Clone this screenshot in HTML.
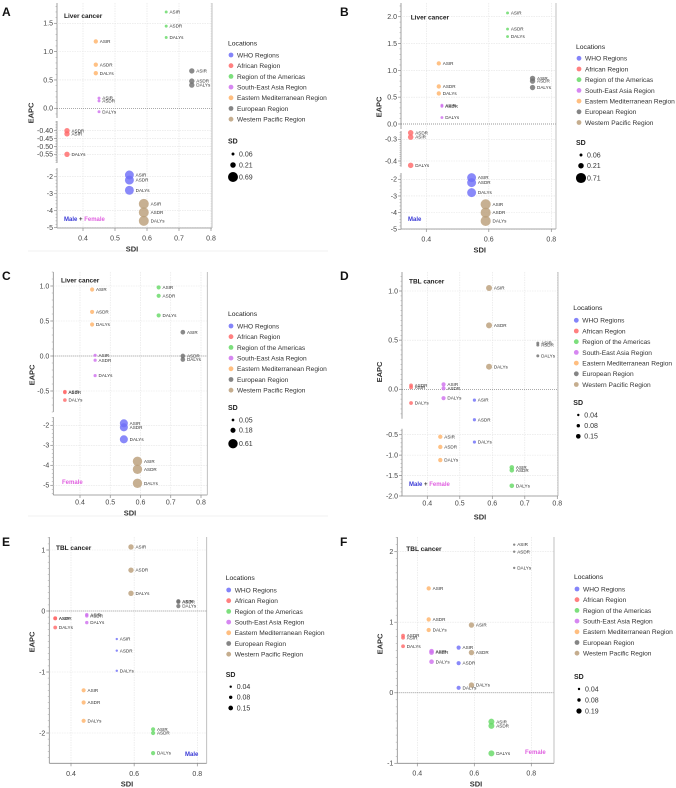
<!DOCTYPE html>
<html><head><meta charset="utf-8">
<style>
html,body{margin:0;padding:0;background:#fff;}
svg{display:block;font-family:"Liberation Sans",sans-serif;}
</style></head>
<body>
<svg id="fig" width="676" height="788" viewBox="0 0 676 788" xmlns="http://www.w3.org/2000/svg">
<rect width="676" height="788" fill="#fff"/>
<line x1="28" y1="251" x2="328" y2="251" stroke="#ececec" stroke-width="0.8"/>
<line x1="28" y1="516" x2="328" y2="516" stroke="#ececec" stroke-width="0.8"/>
</svg>
<script>
// Regions, in fixed order
const regions = ["WHO Regions","African Region","Region of the Americas","South-East Asia Region","Eastern Mediterranean Region","European Region","Western Pacific Region"];
const colors = ["#6f6ff8","#ff6a6a","#66d966","#cf72ee","#ffb36a","#707070","#bb9f7a"];
const sdi = [0.545, 0.35, 0.66, 0.45, 0.44, 0.74, 0.59];
const measures = ["ASIR","ASDR","DALYs"];

// Panel A: Liver cancer, Male + Female
const A_asir  = [-1.9, -0.42, 1.70, 0.18, 1.18, 0.66, -3.6];
const A_asdr  = [-2.2, -0.40, 1.45, 0.13, 0.77, 0.48, -4.1];
const A_dalys = [-2.8, -0.55, 1.25, -0.06, 0.62, 0.41, -4.6];
const A_sd    = [0.55, 0.2, 0.06, 0.06, 0.13, 0.2, 0.69];
// Panel B: Liver cancer, Male
const B_asir  = [-1.9, -0.29, 2.07, 0.35, 1.13, 0.85, -3.5];
const B_asdr  = [-2.2, -0.27, 1.77, 0.33, 0.70, 0.80, -4.0];
const B_dalys = [-2.8, -0.42, 1.63, 0.12, 0.57, 0.68, -4.5];
const B_sd    = [0.55, 0.21, 0.06, 0.06, 0.13, 0.2, 0.71];
// Panel C: Liver cancer, Female
const C_asir  = [-1.9, -0.51, 0.98, 0.01, 0.95, 0.34, -3.8];
const C_asdr  = [-2.1, -0.52, 0.86, -0.06, 0.63, 0.0, -4.2];
const C_dalys = [-2.7, -0.63, 0.58, -0.28, 0.45, -0.05, -4.9];
const C_sd    = [0.45, 0.09, 0.12, 0.07, 0.12, 0.15, 0.61];
// Panel D: TBL cancer, Male + Female
const D_asir  = [-0.11, 0.02, -1.30, 0.05, -0.55, 0.47, 1.03];
const D_asdr  = [-0.31, 0.04, -1.37, 0.01, -0.80, 0.45, 0.65];
const D_dalys = [-0.68, -0.14, -1.75, -0.09, -1.12, 0.34, 0.23];
const D_sd    = [0.07, 0.1, 0.15, 0.12, 0.13, 0.06, 0.25];
// Panel E: TBL cancer, Male
const E_asir  = [-0.46, -0.12, -1.94, -0.06, -1.30, 0.16, 1.05];
const E_asdr  = [-0.65, -0.12, -2.0, -0.08, -1.50, 0.15, 0.67];
const E_dalys = [-0.98, -0.27, -2.33, -0.19, -1.80, 0.08, 0.29];
const E_sd    = [0.04, 0.1, 0.12, 0.08, 0.12, 0.12, 0.2];
// Panel F: TBL cancer, Female
const F_asir  = [0.64, 0.78, -0.41, 0.59, 1.48, 2.1, 0.96];
const F_asdr  = [0.42, 0.81, -0.47, 0.57, 1.04, 2.0, 0.57];
const F_dalys = [0.07, 0.66, -0.86, 0.44, 0.89, 1.77, 0.11];
const F_sd    = [0.12, 0.1, 0.25, 0.15, 0.13, 0.04, 0.2];

// tick label arrays
const xTicksFull = [0.4,0.5,0.6,0.7,0.8];
const xTicksHalf = [0.4,0.6,0.8];
const A_legendSD = ["0.06","0.21","0.69"];
const B_legendSD = ["0.06","0.21","0.71"];
const C_legendSD = ["0.05","0.18","0.61"];
const D_legendSD = ["0.04","0.08","0.15"];
const E_legendSD = ["0.04","0.08","0.15"];
const F_legendSD = ["0.04","0.08","0.19"];

const NS = "http://www.w3.org/2000/svg";
const svg = document.getElementById("fig");
function mk(tag, attrs, parent){
  const e = document.createElementNS(NS, tag);
  for (const k in attrs) e.setAttribute(k, attrs[k]);
  (parent||svg).appendChild(e);
  return e;
}

const panels = [
 {id:"a", letter:"A", lx:2, ly:12, title:"Liver cancer", tx:64, ty:18,
  x04:83, x08:211, left:57, right:212, bottom:228, top:3, xTicks:xTicksFull, xLabY:238, sdiX:132, sdiY:249, eapcX:31, eapcY:113,
  segs:[{v1:1.5,p1:23.3,v2:0,p2:108.3,top:3,bot:118,ticks:[0,0.5,1.0,1.5],fmt:1,minor:0.1},
        {v1:-0.40,p1:130.7,v2:-0.55,p2:154.3,top:121,bot:163,ticks:[-0.40,-0.45,-0.50,-0.55],fmt:2,minor:0.01},
        {v1:-2,p1:176.7,v2:-5,p2:227.7,top:168,bot:228,ticks:[-2,-3,-4,-5],fmt:0,minor:0.2}],
  asir:A_asir, asdr:A_asdr, dalys:A_dalys, sd:A_sd, sdLabels:A_legendSD,
  leg:{dx:231, ty:43, ey:55, sdy:141, sy:[154,165,177]}, sex:"mf", sexX:64, sexY:221},
 {id:"b", letter:"B", lx:340, ly:12, title:"Liver cancer", tx:410.7, ty:19.5,
  x04:426.3, x08:551.3, left:401, right:556, bottom:229, top:3, xTicks:xTicksHalf, xLabY:239, sdiX:479.7, sdiY:250, eapcX:379, eapcY:107,
  segs:[{v1:2,p1:16.7,v2:0,p2:124,top:3,bot:129,ticks:[0,0.5,1.0,1.5,2.0],fmt:1,minor:0.1},
        {v1:-0.3,p1:139.3,v2:-0.4,p2:161,top:131,bot:166.7,ticks:[-0.3,-0.4],fmt:1,minor:0.01},
        {v1:-2,p1:179.3,v2:-5,p2:229.3,top:173,bot:229,ticks:[-2,-3,-4,-5],fmt:0,minor:0.2}],
  asir:B_asir, asdr:B_asdr, dalys:B_dalys, sd:B_sd, sdLabels:B_legendSD,
  leg:{dx:579, ty:46.7, ey:58.3, sdy:142.7, sy:[155,165.7,178]}, sex:"m", sexX:408, sexY:221},
 {id:"c", letter:"C", lx:2, ly:276, title:"Liver cancer", tx:61, ty:282.5,
  x04:80, x08:201, left:53.3, right:207.3, bottom:495, top:272, xTicks:xTicksFull, xLabY:502, sdiX:130, sdiY:513, eapcX:32, eapcY:375,
  segs:[{v1:1.0,p1:286,v2:0,p2:356,top:272,bot:412,ticks:[-0.5,0,0.5,1.0],fmt:1,minor:0.1},
        {v1:-2,p1:425.3,v2:-5,p2:485.3,top:417,bot:495,ticks:[-2,-3,-4,-5],fmt:0,minor:0.2}],
  asir:C_asir, asdr:C_asdr, dalys:C_dalys, sd:C_sd, sdLabels:C_legendSD,
  leg:{dx:231, ty:313.7, ey:326, sdy:407.7, sy:[420,430.3,443.7]}, sex:"f", sexX:62, sexY:484},
 {id:"d", letter:"D", lx:340, ly:276, title:"TBL cancer", tx:409, ty:283.5,
  x04:427.3, x08:557.3, left:402, right:558, bottom:496, top:272, xTicks:xTicksFull, xLabY:503, sdiX:480, sdiY:517, eapcX:379.7, eapcY:372,
  segs:[{v1:1.0,p1:291,v2:0,p2:389.3,top:272,bot:418.7,ticks:[0,0.5,1.0],fmt:1,minor:0.05},
        {v1:-0.5,p1:434.7,v2:-2.0,p2:496,top:428.7,bot:496,ticks:[-0.5,-1.0,-1.5,-2.0],fmt:1,minor:0.1}],
  asir:D_asir, asdr:D_asdr, dalys:D_dalys, sd:D_sd, sdLabels:D_legendSD,
  leg:{dx:576.3, ty:307.7, ey:320.3, sdy:402.7, sy:[415,425.7,436.3]}, sex:"mf", sexX:409, sexY:486},
 {id:"e", letter:"E", lx:2, ly:542, title:"TBL cancer", tx:56, ty:550,
  x04:71, x08:197.3, left:49.3, right:206.7, bottom:763.3, top:537, xTicks:xTicksHalf, xLabY:773.5, sdiX:127, sdiY:784, eapcX:32, eapcY:642,
  segs:[{v1:1,p1:550,v2:-2,p2:733,top:537,bot:763.3,ticks:[1,0,-1,-2],fmt:0,minor:0.1}],
  asir:E_asir, asdr:E_asdr, dalys:E_dalys, sd:E_sd, sdLabels:E_legendSD,
  leg:{dx:228.7, ty:577.3, ey:590, sdy:674.7, sy:[686.7,697.3,708]}, sex:"m", sexX:185, sexY:756},
 {id:"f", letter:"F", lx:340, ly:542, title:"TBL cancer", tx:406.3, ty:551,
  x04:417.3, x08:531.3, left:397.3, right:554, bottom:763.3, top:537, xTicks:xTicksHalf, xLabY:773, sdiX:476, sdiY:784, eapcX:380, eapcY:644,
  segs:[{v1:2,p1:551.7,v2:-1,p2:763.3,top:537,bot:763.3,ticks:[2,1,0,-1],fmt:0,minor:0.1}],
  asir:F_asir, asdr:F_asdr, dalys:F_dalys, sd:F_sd, sdLabels:F_legendSD,
  leg:{dx:577, ty:576.3, ey:589, sdy:676.7, sy:[689,700,711]}, sex:"f", sexX:525, sexY:754}
];

function rOf(sd){ return 6*Math.sqrt(sd); }

panels.forEach(P => {
  const g = mk("g", {});
  
  
  const xs = v => P.x04 + (v-0.4)*(P.x08-P.x04)/0.4;
  const segVal = (s,p) => s.v1 + (p-s.p1)*(s.v2-s.v1)/(s.p2-s.p1);
  const segPx = (s,v) => s.p1 + (v-s.v1)*(s.p2-s.p1)/(s.v2-s.v1);
  const ys = v => {
    let best=null, bd=1e9;
    P.segs.forEach(s => {
      const hi = segVal(s,s.top), lo = segVal(s,s.bot);
      const d = v>hi ? v-hi : (v<lo ? lo-v : 0);
      if (d<bd){bd=d;best=s;}
    });
    return segPx(best,v);
  };
  P.xTicks.forEach(t => {
    const gl = mk("line",{x1:xs(t),x2:xs(t),y1:P.top,y2:P.bottom,stroke:"#e3e3e3","stroke-width":0.6,"stroke-dasharray":"1.5,1"},g);
    
    
  });
  P.segs.forEach(s => {
    const ax = mk("line",{x1:P.left,x2:P.left,y1:s.top,y2:s.bot,stroke:"#8a8a8a","stroke-width":0.8},g);
    
    
    const hi = segVal(s,s.top), lo = segVal(s,s.bot);
    const n0 = Math.ceil(lo/s.minor - 1e-6), n1 = Math.floor(hi/s.minor + 1e-6);
    for (let k=n0;k<=n1;k++){
      const y = segPx(s,k*s.minor);
      const mt = mk("line",{x1:P.left-1.5,x2:P.left,y1:y,y2:y,stroke:"#9a9a9a","stroke-width":0.5},g);
      
      
    }
    s.ticks.forEach(t => {
      const y = segPx(s,t);
      if (Math.abs(t)>1e-9){
        const gl = mk("line",{x1:P.left,x2:P.right,y1:y,y2:y,stroke:"#e3e3e3","stroke-width":0.6,"stroke-dasharray":"1.5,1"},g);
        
        
      }
      const tk = mk("line",{x1:P.left-3,x2:P.left,y1:y,y2:y,stroke:"#8a8a8a","stroke-width":0.7},g);
      
      
      const tl = mk("text",{x:P.left-4,y:y+2.4,"text-anchor":"end","font-size":7,fill:"#444"},g);
      
      
      tl.textContent = t.toFixed(s.fmt);
    });
  });
  const z = mk("line",{x1:P.left,x2:P.right,y1:ys(0),y2:ys(0),stroke:"#777","stroke-width":0.7,"stroke-dasharray":"1,1"},g);
  
  
  const xa = mk("line",{x1:P.left,x2:P.right,y1:P.bottom,y2:P.bottom,stroke:"#8a8a8a","stroke-width":0.8},g);
  
  
  const rf = mk("line",{x1:P.right,x2:P.right,y1:P.top,y2:P.bottom,stroke:"#b0b0b0","stroke-width":0.8},g);
  
  
  P.xTicks.forEach(t => {
    const tk = mk("line",{x1:xs(t),x2:xs(t),y1:P.bottom,y2:P.bottom+3,stroke:"#8a8a8a","stroke-width":0.7},g);
    
    
    const tl = mk("text",{x:xs(t),y:P.xLabY+2.5,"text-anchor":"middle","font-size":7,fill:"#444"},g);
    
    
    tl.textContent = t.toFixed(1);
  });
  const xt = mk("text",{x:P.sdiX,y:P.sdiY+2.5,"text-anchor":"middle","font-size":7.5,"font-weight":"bold",fill:"#333"},g);
  
  
  xt.textContent = "SDI";
  const yt = mk("text",{x:0,y:0,"text-anchor":"middle","font-size":7.5,"font-weight":"bold",fill:"#333",transform:"translate("+(P.eapcX+2.5)+","+P.eapcY+") rotate(-90)"},g);
  
  
  yt.textContent = "EAPC";
  const pl = mk("text",{x:P.lx,y:P.ly+4,"font-size":12,"font-weight":"bold",fill:"#111"},g);
  
  
  pl.textContent = P.letter;
  const ti = mk("text",{x:P.tx,y:P.ty,"font-size":6.5,"font-weight":"bold",fill:"#222"},g);
  
  
  ti.textContent = P.title;
  const sx = mk("text",{x:P.sexX,y:P.sexY,"font-size":6,"font-weight":"bold"},g);
  
  
  if (P.sex==="mf"){
    sx.innerHTML = '<tspan fill="#3a3ad6">Male</tspan><tspan fill="#333"> + </tspan><tspan fill="#e060e0">Female</tspan>';
  } else if (P.sex==="m"){
    sx.innerHTML = '<tspan fill="#3a3ad6">Male</tspan>';
  } else {
    sx.innerHTML = '<tspan fill="#e060e0">Female</tspan>';
  }
  const series = [P.asir, P.asdr, P.dalys];
  regions.forEach((rg,i) => {
    series.forEach((arr,m) => {
      const cx = xs(sdi[i]), cy = ys(arr[i]), r = rOf(P.sd[i]);
      const c = mk("circle",{cx:cx,cy:cy,r:r,fill:colors[i],"fill-opacity":0.82},g);
      
      
      const lb = mk("text",{x:cx+r+1.8,y:cy+1.6,"font-size":4.6,fill:"#333"},g);
      
      
      lb.textContent = measures[m];
    });
  });
  const L = P.leg;
  const lt = mk("text",{x:L.dx-3,y:L.ty+2.5,"font-size":6.8,fill:"#222"},g);
  
  
  lt.textContent = "Locations";
  regions.forEach((rg,i) => {
    const y = L.ey + i*10.7;
    const d = mk("circle",{cx:L.dx,cy:y,r:2.4,fill:colors[i],"fill-opacity":0.85},g);
    
    
    const t = mk("text",{x:L.dx+6,y:y+2.4,"font-size":6.6,fill:"#333"},g);
    
    
    t.textContent = rg;
  });
  const st = mk("text",{x:L.dx-3,y:L.sdy+2.5,"font-size":7,"font-weight":"bold",fill:"#222"},g);
  
  
  st.textContent = "SD";
  P.sdLabels.forEach((lab,k) => {
    const y = L.sy[k];
    const d = mk("circle",{cx:L.dx+2,cy:y,r:rOf(parseFloat(lab)),fill:"#000"},g);
    
    
    const t = mk("text",{x:L.dx+8,y:y+2.4,"font-size":7,fill:"#333"},g);
    
    
    t.textContent = lab;
  });
});
</script>
</body></html>
